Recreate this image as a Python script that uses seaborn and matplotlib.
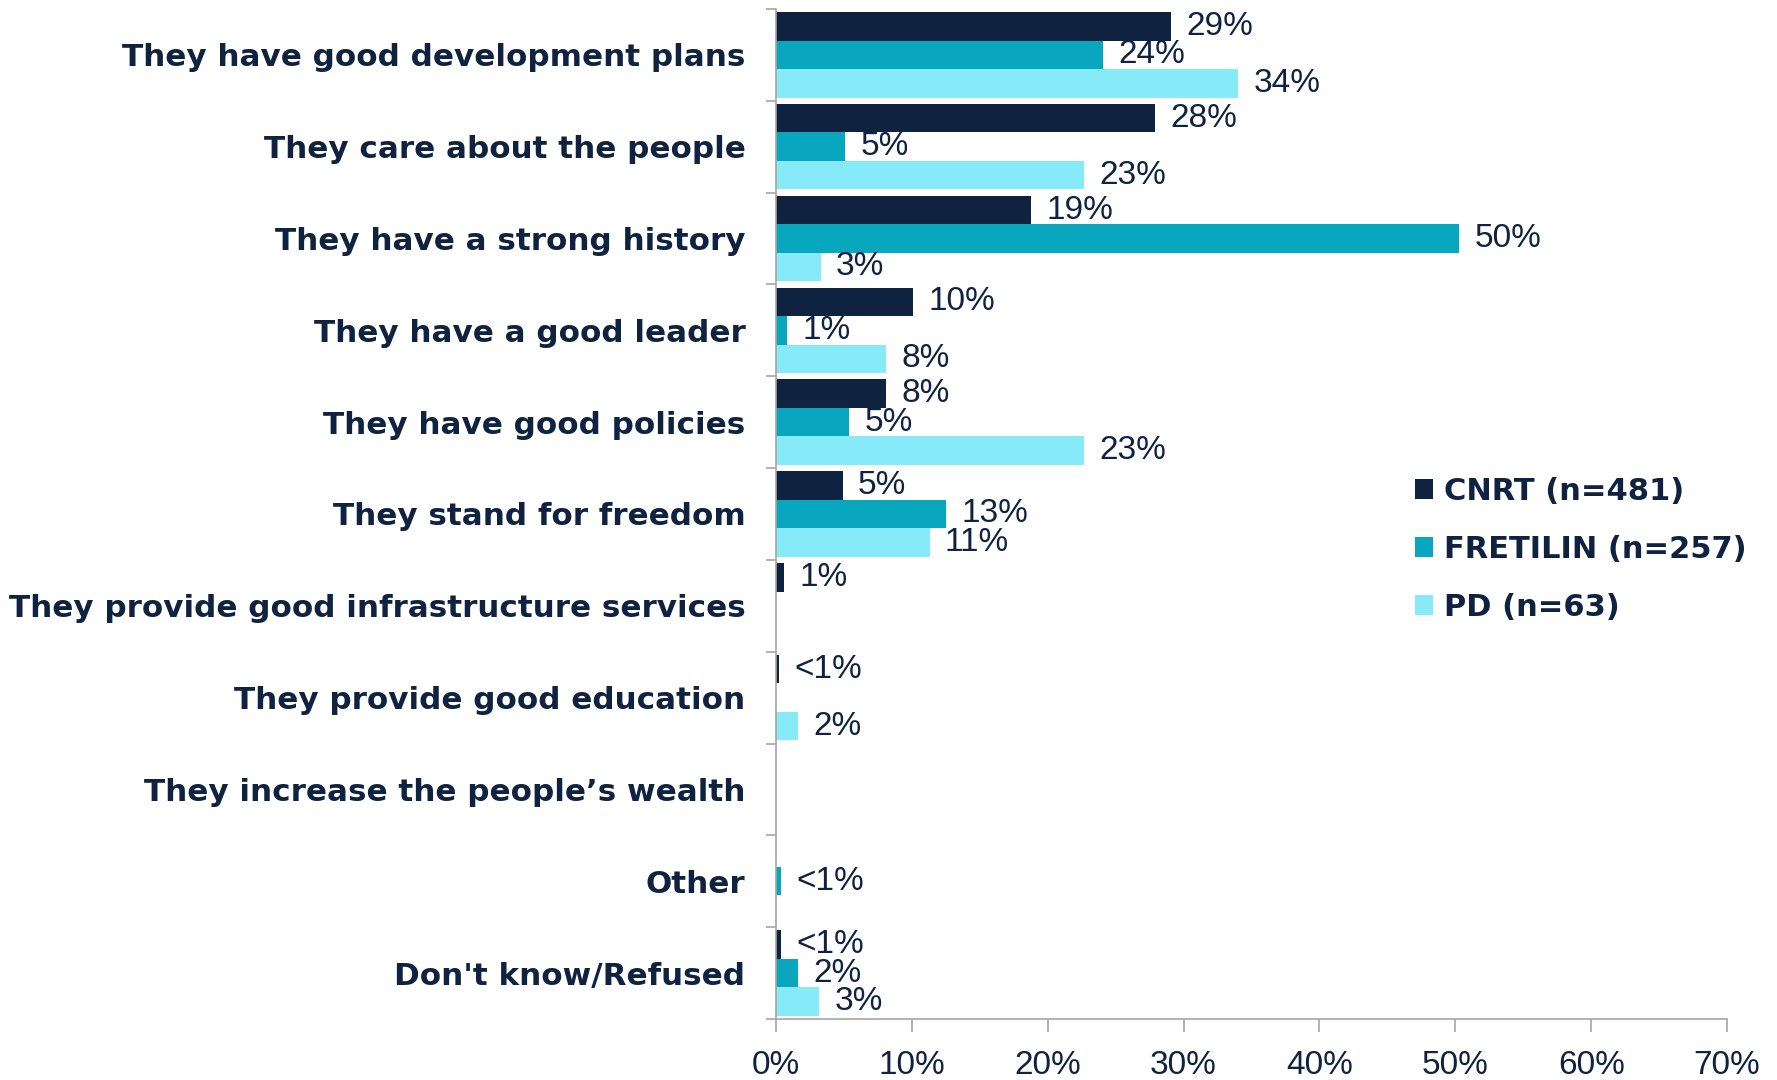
#Imports
import numpy as np
import pandas as pd
import seaborn as sns
import matplotlib.pyplot as plt
from matplotlib.ticker import FixedLocator, PercentFormatter

#Data
reasons = [
    "They have good development plans",
    "They care about the people",
    "They have a strong history",
    "They have a good leader",
    "They have good policies",
    "They stand for freedom",
    "They provide good infrastructure services",
    "They provide good education",
    "They increase the people\u2019s wealth",
    "Other",
    "Don't know/Refused",
]
parties = ["CNRT (n=481)", "FRETILIN (n=257)", "PD (n=63)"]

cnrt = [29.1, 27.9, 18.8, 10.1, 8.1, 4.9, 0.6, 0.2, 0, 0, 0.4]
fretilin = [24.1, 5.1, 50.3, 0.8, 5.4, 12.5, 0, 0, 0, 0.4, 1.6]
pd_vals = [34.0, 22.7, 3.3, 8.1, 22.7, 11.3, 0, 1.6, 0, 0, 3.2]

cnrt_lbl = ["29%", "28%", "19%", "10%", "8%", "5%", "1%", "<1%", "", "", "<1%"]
fretilin_lbl = ["24%", "5%", "50%", "1%", "5%", "13%", "", "", "", "<1%", "2%"]
pd_lbl = ["34%", "23%", "3%", "8%", "23%", "11%", "", "2%", "", "", "3%"]

colors = ["#0F2341", "#08A7BE", "#87EAF8"]
text_col = "#0F2341"

df = pd.DataFrame({
    "reason": reasons * 3,
    "party": np.repeat(parties, len(reasons)),
    "value": cnrt + fretilin + pd_vals,
})

#Setup
sns.set_theme(style="white")
plt.rcParams["font.family"] = ["DejaVu Sans"]
narrow = ["Liberation Sans", "DejaVu Sans"]

fig = plt.figure(figsize=(17.77, 10.8), dpi=100)
ax = fig.add_axes([0.4367, 0.0565, 0.5352, 0.9352])

sns.barplot(data=df, y="reason", x="value", hue="party", order=reasons,
            hue_order=parties, palette=colors, width=0.93, linewidth=0,
            saturation=1, orient="h", ax=ax)

#value labels
for cont, lbls in zip(ax.containers, [cnrt_lbl, fretilin_lbl, pd_lbl]):
    ax.bar_label(cont, labels=lbls, padding=11, color=text_col,
                 fontsize=24, family=narrow)

#axes styling
ax.set_xlim(0, 70)
ax.set_xticks(np.arange(0, 71, 10))
ax.xaxis.set_major_formatter(PercentFormatter(decimals=0))
ax.set_xlabel("")
ax.set_ylabel("")
for lab in ax.get_xticklabels():
    lab.set_fontfamily(narrow)
ax.tick_params(axis="x", length=9, width=1.2, color="#A6A6A6", pad=13,
               labelsize=24, labelcolor=text_col, direction="out", bottom=True)
ax.tick_params(axis="y", which="major", length=0, pad=22, labelsize=22.3,
               labelcolor=text_col)
for lab in ax.get_yticklabels():
    lab.set_fontweight("bold")
ax.yaxis.set_minor_locator(FixedLocator(np.arange(-0.5, len(reasons), 1)))
ax.tick_params(axis="y", which="minor", length=7, width=1.2, color="#A6A6A6",
               direction="out", left=True)

sns.despine(ax=ax)
for s in ["left", "bottom"]:
    ax.spines[s].set_color("#A6A6A6")
    ax.spines[s].set_linewidth(1.2)

leg = ax.legend(loc="upper left", bbox_to_anchor=(0.643, 0.564), frameon=False,
                prop={"weight": "bold", "size": 22}, handlelength=0.6,
                handleheight=0.6, handletextpad=0.35, labelspacing=0.95)
for t in leg.get_texts():
    t.set_color(text_col)

plt.savefig("out.png", dpi=100)
